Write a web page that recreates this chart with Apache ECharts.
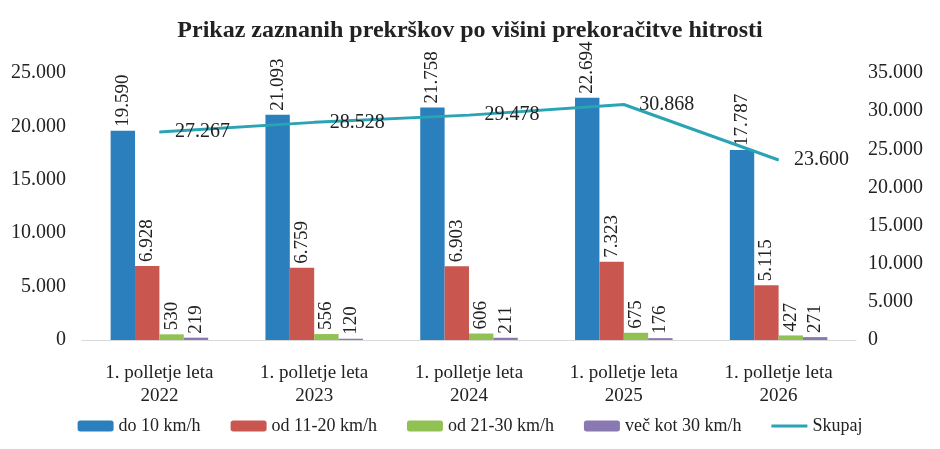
<!DOCTYPE html>
<html>
<head>
<meta charset="utf-8">
<script src="https://cdn.jsdelivr.net/npm/echarts@6/dist/echarts.min.js"></script>
<style>
    html, body {margin: 0; padding: 0; background: #fff;}
    #main {width: 940px; height: 449px;}
</style>
</head>
<body>
<div id="main"></div>
<script>
const categories = ['1. polletje leta\n2022', '1. polletje leta\n2023', '1. polletje leta\n2024', '1. polletje leta\n2025', '1. polletje leta\n2026'];
const do10 = [19590, 21093, 21758, 22694, 17787];
const od11to20 = [6928, 6759, 6903, 7323, 5115];
const od21to30 = [530, 556, 606, 675, 427];
const nad30 = [219, 120, 211, 176, 271];
const skupaj = [27267, 28528, 29478, 30868, 23600];

const fontFamily = '"Liberation Serif", "DejaVu Serif", serif';
// slovenian thousands separator
const fmt = v => String(v).replace(/\B(?=(\d{3})+(?!\d))/g, '.');

const barLabel = {
    show: true,
    position: 'top',
    rotate: 90,
    align: 'left',
    verticalAlign: 'middle',
    distance: 4,
    fontFamily: fontFamily,
    fontSize: 19,
    color: '#222',
    formatter: p => fmt(p.value)
};

const makeBar = (name, data, color) => ({
    name: name,
    type: 'bar',
    data: data,
    barGap: '0%',
    barCategoryGap: '37%',
    itemStyle: {color: color},
    label: barLabel
});

const myChart = echarts.init(document.getElementById('main'));
myChart.setOption({
    animation: false,
    textStyle: {fontFamily: fontFamily},
    title: {
        text: 'Prikaz zaznanih prekrškov po višini prekoračitve hitrosti',
        left: 'center',
        top: 14,
        textStyle: {fontFamily: fontFamily, fontSize: 24, fontWeight: 'bold', color: '#222'}
    },
    legend: {
        bottom: 9,
        left: 'center',
        itemWidth: 36,
        itemHeight: 11,
        itemGap: 30,
        textStyle: {fontFamily: fontFamily, fontSize: 18, color: '#222'},
        data: [
            'do 10 km/h', 'od 11-20 km/h', 'od 21-30 km/h', 'več kot 30 km/h',
            {name: 'Skupaj', icon: 'path://M0,4 L36,4 L36,7 L0,7 Z'}
        ]
    },
    grid: {left: 82, right: 84, top: 73, bottom: 109},
    xAxis: {
        type: 'category',
        data: categories,
        axisLine: {show: true, lineStyle: {color: '#d9d9d9'}},
        axisTick: {show: false},
        axisLabel: {fontFamily: fontFamily, fontSize: 19, color: '#222', lineHeight: 23, margin: 22}
    },
    yAxis: [
        {
            type: 'value',
            min: 0,
            max: 25000,
            interval: 5000,
            splitLine: {show: false},
            axisLine: {show: false},
            axisTick: {show: false},
            axisLabel: {fontFamily: fontFamily, fontSize: 20, color: '#222', margin: 16, formatter: fmt}
        },
        {
            type: 'value',
            min: 0,
            max: 35000,
            interval: 5000,
            splitLine: {show: false},
            axisLine: {show: false},
            axisTick: {show: false},
            axisLabel: {fontFamily: fontFamily, fontSize: 20, color: '#222', margin: 12, formatter: fmt}
        }
    ],
    series: [
        makeBar('do 10 km/h', do10, '#2a7fbc'),
        makeBar('od 11-20 km/h', od11to20, '#c9574f'),
        makeBar('od 21-30 km/h', od21to30, '#92c153'),
        makeBar('več kot 30 km/h', nad30, '#8a78b0'),
        {
            name: 'Skupaj',
            type: 'line',
            yAxisIndex: 1,
            data: skupaj,
            symbol: 'circle',
            symbolSize: 1,
            showSymbol: true,
            lineStyle: {color: '#2aa4b4', width: 3},
            itemStyle: {color: '#2aa4b4'},
            label: {
                show: true,
                position: 'right',
                distance: 15,
                fontFamily: fontFamily,
                fontSize: 20,
                color: '#222',
                formatter: p => fmt(p.value)
            },
            z: 5
        }
    ]
});
</script>
</body>
</html>
